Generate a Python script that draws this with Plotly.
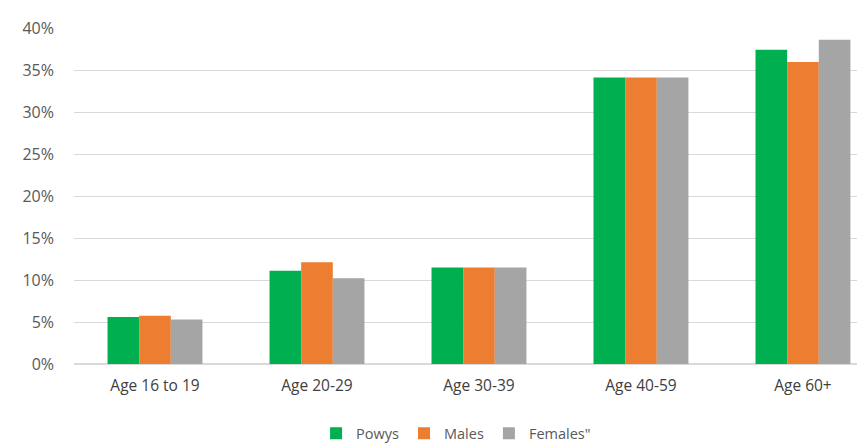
import plotly.graph_objects as go

categories = ["Age 16 to 19", "Age 20-29", "Age 30-39", "Age 40-59", "Age 60+"]
powys = [5.6, 11.1, 11.5, 34.1, 37.4]
males = [5.75, 12.1, 11.5, 34.1, 35.95]
females = [5.3, 10.2, 11.5, 34.1, 38.6]
tick_vals = [0, 5, 10, 15, 20, 25, 30, 35, 40]
tick_text = [f"{v}%" for v in tick_vals]

series = [("Powys", powys, "#00b050"), ("Males", males, "#ed7d31"), ('Females"', females, "#a5a5a5")]

fig = go.Figure()
for name, vals, col in series:
    fig.add_trace(go.Bar(x=categories, y=vals, name=name, marker=dict(color=col, line=dict(width=0))))

font = dict(family="Open Sans, Liberation Sans, sans-serif", size=15, color="#595959")
fig.update_layout(
    width=865, height=444,
    margin=dict(l=66, r=8, t=20, b=88),
    plot_bgcolor="white", paper_bgcolor="white",
    barmode="group", bargap=0.414, bargroupgap=0,
    font=font,
    showlegend=True,
    legend=dict(orientation="h", xref="container", x=0.518, xanchor="center",
                yref="container", y=0.078, yanchor="top",
                font=dict(size=14.5, color="#595959"), traceorder="normal",
                itemwidth=30, tracegroupgap=0),
    xaxis=dict(range=[-0.5, 4.383], showgrid=False, showline=False, ticks="",
               ticklabelstandoff=10,
               tickfont=dict(size=15.5, color="#404040")),
    yaxis=dict(range=[0, 40], tickvals=tick_vals, ticktext=tick_text, showgrid=True,
               gridcolor="#d9d9d9", gridwidth=1, zeroline=True, zerolinecolor="#d9d9d9",
               showline=False, ticks="", ticklabelstandoff=19,
               tickfont=dict(size=16, color="#595959")),
)
fig.write_html("out.html")
